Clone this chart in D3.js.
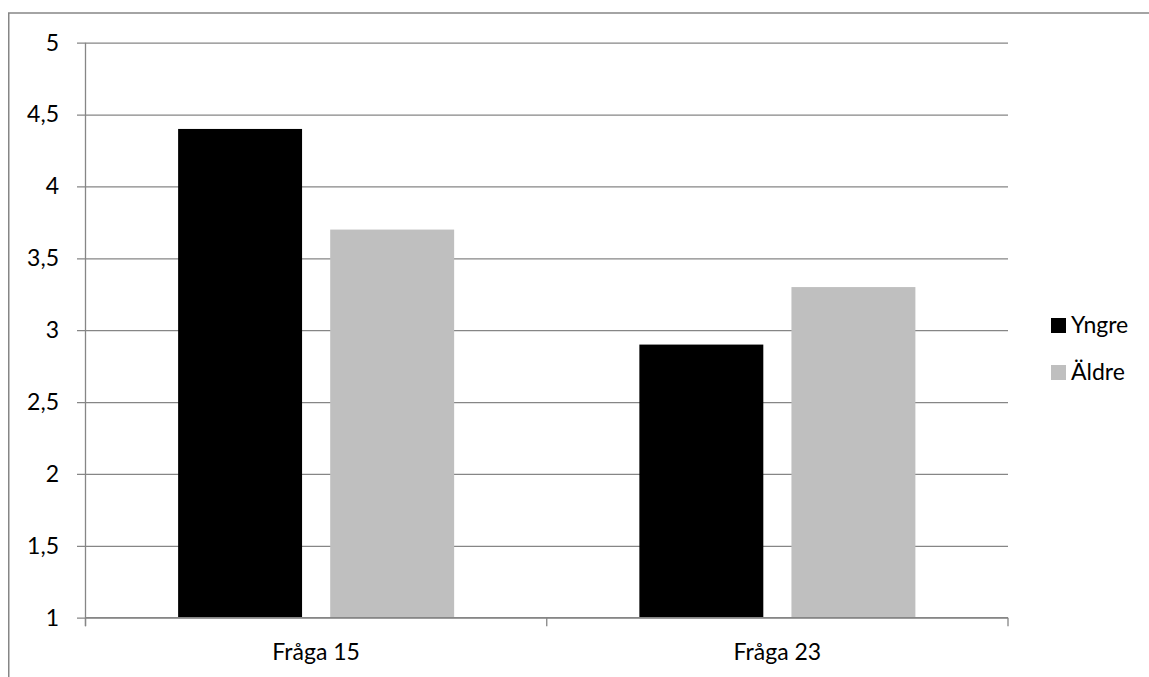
<!DOCTYPE html>
<html>
<head>
<meta charset="utf-8">
<script src="https://cdn.jsdelivr.net/npm/d3@7"></script>
<style>
  html, body { margin: 0; padding: 0; background: #fff; }
  svg { display: block; }
  text { font-family: Lato, "Open Sans", sans-serif; fill: #000; }
</style>
</head>
<body>
<svg id="chart" width="1149" height="677"></svg>
<script>
// Chart data
const categories = ["Fråga 15", "Fråga 23"];
const seriesNames = ["Yngre", "Äldre"];
const yngreValues = [4.4, 2.9];
const aldreValues = [3.7, 3.3];
const yTickValues = [1, 1.5, 2, 2.5, 3, 3.5, 4, 4.5, 5];
const seriesColors = ["#000000", "#bfbfbf"];

const seriesValues = [yngreValues, aldreValues];
const rows = categories.map((c, i) => ({
  category: c,
  values: seriesNames.map((s, j) => ({ series: s, value: seriesValues[j][i] }))
}));

const svg = d3.select("#chart");
const plot = { left: 85.5, right: 1008, top: 42.7, bottom: 617.7 };
const gridColor = "#868686";
const fontSize = 23;

// Outer chart frame
svg.append("rect")
  .attr("x", 8.75).attr("y", 13)
  .attr("width", 1160).attr("height", 700)
  .attr("fill", "none")
  .attr("stroke", gridColor)
  .attr("stroke-width", 1.5);

const y = d3.scaleLinear().domain([1, 5]).range([plot.bottom, plot.top]);
const x0 = d3.scaleBand().domain(categories).range([plot.left, plot.right]).padding(0);
const x1 = d3.scaleBand().domain(seriesNames).range([0, x0.bandwidth()])
  .paddingInner(0.185).paddingOuter(0.609);

// Horizontal gridlines with ticks extending left of the axis
const yAxis = d3.axisLeft(y)
  .tickValues(yTickValues)
  .tickSize(-(plot.right - plot.left))
  .tickFormat(d => d3.format("")(d).replace(".", ","));

const yg = svg.append("g")
  .attr("transform", `translate(${plot.left},0)`)
  .call(yAxis);
yg.select(".domain").remove();
yg.selectAll(".tick line")
  .attr("x1", -8.5)
  .attr("stroke", gridColor)
  .attr("stroke-width", 1.3);
yg.selectAll(".tick text")
  .attr("x", -26.5)
  .style("font-size", fontSize + "px")
  .style("font-family", "Lato, sans-serif")
  .attr("fill", "#000");

// Bars
const groups = svg.append("g").selectAll("g")
  .data(rows)
  .join("g")
  .attr("transform", d => `translate(${x0(d.category)},0)`);

groups.selectAll("rect")
  .data(d => d.values)
  .join("rect")
  .attr("x", d => x1(d.series))
  .attr("width", x1.bandwidth())
  .attr("y", d => y(d.value))
  .attr("height", d => y(1) - y(d.value))
  .attr("fill", (d, i) => seriesColors[i]);

// Vertical axis line
svg.append("line")
  .attr("x1", plot.left).attr("x2", plot.left)
  .attr("y1", plot.top).attr("y2", plot.bottom + 8.5)
  .attr("stroke", gridColor).attr("stroke-width", 1.3);

// Category axis with boundary ticks
const xBoundaries = [plot.left, plot.left + x0.bandwidth(), plot.right];
const xg = svg.append("g");
xg.append("line")
  .attr("x1", plot.left).attr("x2", plot.right)
  .attr("y1", plot.bottom).attr("y2", plot.bottom)
  .attr("stroke", gridColor).attr("stroke-width", 1.3);
xg.selectAll("line.tick")
  .data(xBoundaries)
  .join("line")
  .attr("class", "tick")
  .attr("x1", d => d).attr("x2", d => d)
  .attr("y1", plot.bottom).attr("y2", plot.bottom + 8.5)
  .attr("stroke", gridColor).attr("stroke-width", 1.3);
xg.selectAll("text")
  .data(categories)
  .join("text")
  .attr("x", d => x0(d) + x0.bandwidth() / 2)
  .attr("y", 660)
  .attr("text-anchor", "middle")
  .style("font-size", fontSize + "px")
  .text(d => d);

// Legend
const legend = svg.append("g").attr("transform", "translate(1051,318)");
const items = legend.selectAll("g")
  .data(seriesNames)
  .join("g")
  .attr("transform", (d, i) => `translate(0,${i * 47})`);
items.append("rect")
  .attr("width", 15).attr("height", 15)
  .attr("fill", (d, i) => seriesColors[i]);
items.append("text")
  .attr("x", 20)
  .attr("y", 15)
  .style("font-size", fontSize + "px")
  .text(d => d);
</script>
</body>
</html>
